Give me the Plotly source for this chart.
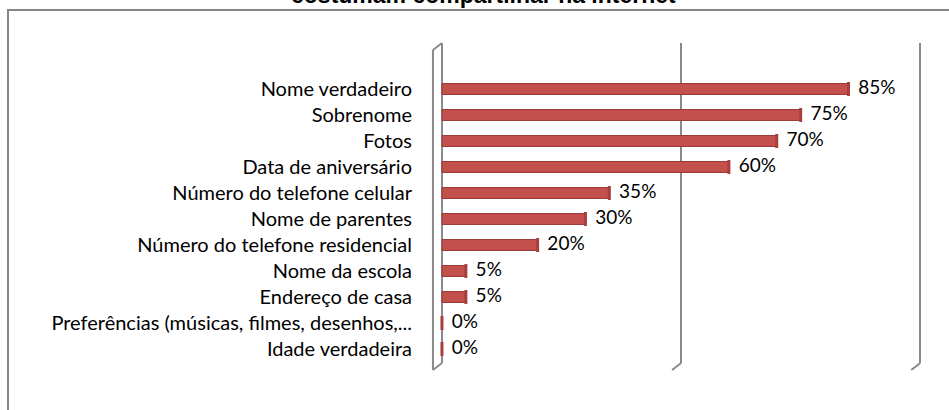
import plotly.graph_objects as go

categories = [
    "Nome verdadeiro",
    "Sobrenome",
    "Fotos",
    "Data de aniversário",
    "Número do telefone celular",
    "Nome de parentes",
    "Número do telefone residencial",
    "Nome da escola",
    "Endereço de casa",
    "Preferências (músicas, filmes, desenhos,...",
    "Idade verdadeira",
]
values = [0.85, 0.75, 0.70, 0.60, 0.35, 0.30, 0.20, 0.05, 0.05, 0.0, 0.0]
value_labels = ["85%", "75%", "70%", "60%", "35%", "30%", "20%", "5%", "5%", "0%", "0%"]
grid_ticks = [0, 0.5, 1.0]
title_text = "costumam compartilhar na internet"

FONT = "Lato, 'Open Sans', sans-serif"
GRID = "#8a8a8a"
W, H = 949, 410
ML, MR, MT, MB = 430, 24, 43, 47
XR = [-0.025, 1.01]
plot_w = W - ML - MR
plot_h = H - MT - MB
unit_px = plot_w / (XR[1] - XR[0])
dx = 9 / unit_px          # 3D depth offset in data units
dy = 7 / plot_h           # 3D depth offset in paper units

fig = go.Figure()
fig.add_trace(go.Bar(
    y=categories, x=values, orientation="h", width=0.42,
    marker=dict(color="#C4504D", line=dict(color="#9A3936", width=1)),
    hoverinfo="skip", showlegend=False,
))
# bar end caps
fig.add_trace(go.Scatter(
    y=categories, x=values, mode="markers",
    marker=dict(symbol="line-ns", size=10, line=dict(width=3, color="#A83F3C")),
    hoverinfo="skip", showlegend=False, cliponaxis=False,
))
# value labels
fig.add_trace(go.Scatter(
    y=categories, x=values, mode="markers+text", text=value_labels,
    textposition="middle right",
    textfont=dict(family=FONT, size=19, color="#000000"),
    marker=dict(size=14, opacity=0),
    hoverinfo="skip", showlegend=False, cliponaxis=False,
))

shapes = []
# slanted grid feet
for t in grid_ticks:
    shapes.append(dict(type="line", xref="x", yref="paper", x0=t, y0=0, x1=t - dx, y1=-dy,
                       line=dict(color=GRID, width=2)))
# left wall
shapes.append(dict(type="line", xref="x", yref="paper", x0=-dx, y0=-dy, x1=-dx, y1=1 - dy,
                   line=dict(color=GRID, width=2)))
shapes.append(dict(type="line", xref="x", yref="paper", x0=-dx, y0=1 - dy, x1=0, y1=1,
                   line=dict(color=GRID, width=2)))
# outer chart border (extends beyond the visible window on right/bottom)
shapes.append(dict(type="rect", xref="paper", yref="paper",
                   x0=(8 - ML) / plot_w, x1=(W + 20 - ML) / plot_w,
                   y0=-(H + 20 - (H - MB)) / plot_h, y1=1 + (MT - 10) / plot_h,
                   line=dict(color="#868686", width=2), fillcolor="rgba(0,0,0,0)", layer="below"))

fig.update_layout(
    width=W, height=H,
    margin=dict(l=ML, r=MR, t=MT, b=MB, pad=0),
    paper_bgcolor="white", plot_bgcolor="white",
    shapes=shapes,
    xaxis=dict(range=XR, tickvals=grid_ticks, showticklabels=False, showgrid=True,
               gridcolor=GRID, gridwidth=2, zeroline=False, showline=False, ticks=""),
    yaxis=dict(range=[10.538, -1.769], type="category", showgrid=False, zeroline=False,
               showline=False, ticks="", ticklabelstandoff=17,
               tickfont=dict(family=FONT, size=20, color="#000000")),
    annotations=[dict(text="<b>" + title_text + "</b>", xref="paper", yref="paper",
                      x=(483 - ML) / plot_w, y=1, xanchor="center", yanchor="bottom", yshift=33,
                      showarrow=False,
                      font=dict(family="'Liberation Sans', Arial, sans-serif", size=23, color="#000000"))],
)

fig.write_html("out.html", config={"displayModeBar": False},
               post_script="document.body.style.margin='0';document.body.style.overflow='hidden';")
